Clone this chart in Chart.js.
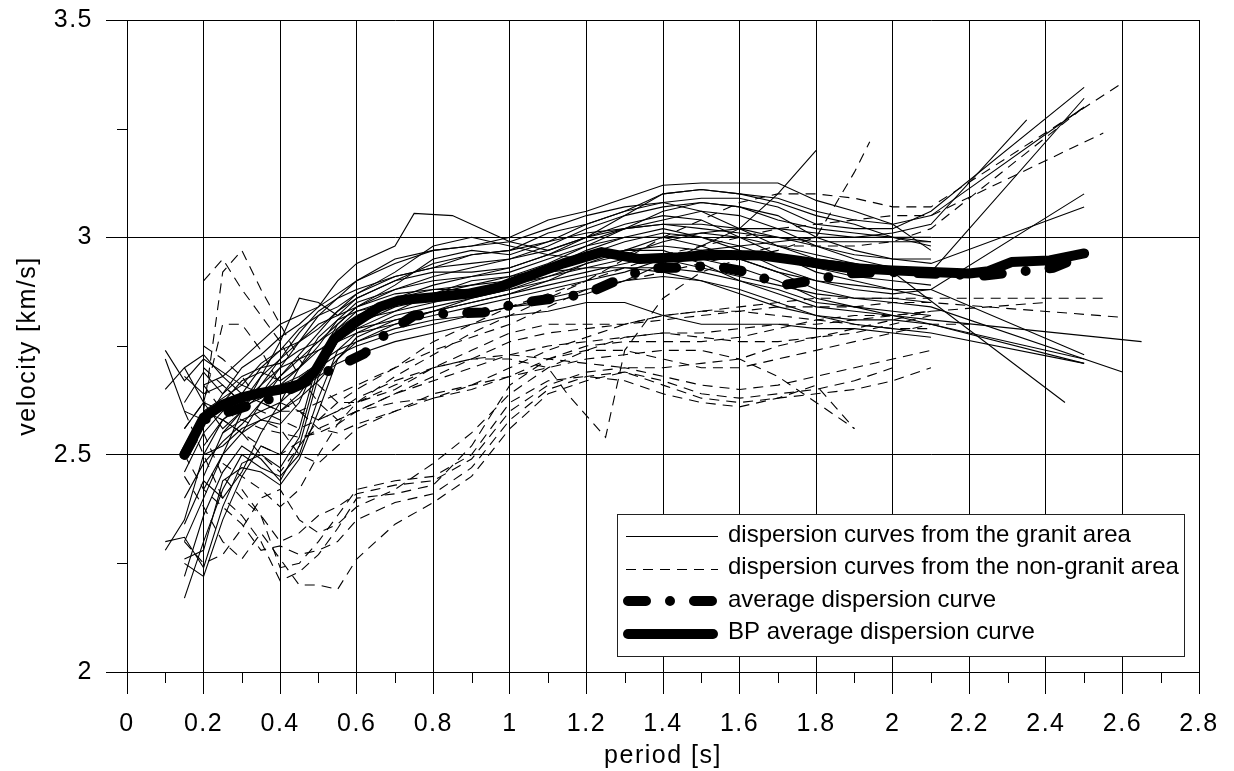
<!DOCTYPE html>
<html>
<head>
<meta charset="utf-8">
<title>Dispersion curves</title>
<script src="https://cdn.jsdelivr.net/npm/chart.js@4.4.1/dist/chart.umd.min.js"></script>
<style>
  html, body { margin: 0; padding: 0; background: #fff; }
  canvas { display: block; }
</style>
</head>
<body>
<canvas id="canvas" width="1234" height="771"></canvas>
<script>
const xTicks = [0, 0.2, 0.4, 0.6, 0.8, 1, 1.2, 1.4, 1.6, 1.8, 2, 2.2, 2.4, 2.6, 2.8];
const xMinorTicks = [0.1, 0.3, 0.5, 0.7, 0.9, 1.1, 1.3, 1.5, 1.7, 1.9, 2.1, 2.3, 2.5, 2.7];
const yTicks = [2, 2.5, 3, 3.5];
const yMinorTicks = [2.25, 2.75, 3.25];

const legendLabels = [
  'dispersion curves from the granit area',
  'dispersion curves from the non-granit area',
  'average dispersion curve',
  'BP average dispersion curve'
];

// [period s, velocity km/s]
const graniteCurves = [
  [[0.1,2.74],[0.15,2.67],[0.2,2.72],[0.25,2.69],[0.3,2.66],[0.35,2.71],[0.4,2.74],[0.45,2.79],[0.5,2.82],[0.55,2.84],[0.6,2.87],[0.7,2.91],[0.8,2.93],[0.9,2.96],[1.0,2.97],[1.1,3.01],[1.2,3.03],[1.3,3.06],[1.4,3.08],[1.5,3.09],[1.6,3.09],[1.7,3.07],[1.8,3.03],[1.9,3.02],[2.0,3.02],[2.1,3.06],[2.5,3.345]],
  [[0.15,2.62],[0.2,2.69],[0.25,2.64],[0.3,2.7],[0.35,2.73],[0.4,2.77],[0.45,2.8],[0.5,2.84],[0.55,2.9],[0.6,2.94],[0.7,2.98],[0.75,3.055],[0.85,3.05],[0.95,3.01],[1.0,2.99],[1.1,2.97],[1.2,3.0],[1.3,3.05],[1.4,3.1],[1.5,3.11],[1.6,3.1],[1.7,3.08],[1.8,3.05],[1.9,3.03],[2.0,3.0],[2.1,2.98]],
  [[0.2,2.6],[0.25,2.63],[0.3,2.66],[0.35,2.64],[0.4,2.7],[0.45,2.76],[0.5,2.82],[0.55,2.86],[0.6,2.9],[0.7,2.95],[0.8,2.97],[0.9,2.98],[1.0,3.0],[1.1,3.04],[1.2,3.06],[1.3,3.09],[1.4,3.12],[1.5,3.125],[1.6,3.125],[1.7,3.125],[1.8,3.085],[1.9,3.06],[2.0,3.03],[2.1,2.97]],
  [[0.2,2.52],[0.25,2.58],[0.3,2.61],[0.35,2.63],[0.4,2.66],[0.45,2.68],[0.5,2.71],[0.55,2.74],[0.6,2.76],[0.7,2.79],[0.8,2.81],[0.9,2.82],[1.0,2.84],[1.1,2.85],[1.2,2.87],[1.3,2.9],[1.4,2.94],[1.5,2.98],[1.6,3.02],[1.7,3.1],[1.8,3.2]],
  [[0.15,2.22],[0.2,2.36],[0.25,2.46],[0.3,2.52],[0.35,2.49],[0.4,2.44],[0.45,2.52],[0.5,2.68],[0.55,2.76],[0.6,2.8],[0.7,2.84],[0.8,2.86],[0.9,2.88],[1.0,2.9],[1.1,2.93],[1.2,2.97],[1.3,3.0],[1.4,3.02],[1.5,3.0],[1.6,2.97],[1.7,2.93],[1.8,2.9],[1.9,2.88],[2.0,2.87],[2.1,2.88],[2.5,3.1]],
  [[0.15,2.17],[0.2,2.3],[0.25,2.42],[0.3,2.5],[0.35,2.47],[0.4,2.45],[0.45,2.5],[0.5,2.63],[0.55,2.74],[0.6,2.78],[0.7,2.82],[0.8,2.84],[0.9,2.86],[1.0,2.88],[1.1,2.9],[1.2,2.92],[1.3,2.94],[1.4,2.96],[1.5,2.95],[1.6,2.93],[1.7,2.9],[1.8,2.86],[1.9,2.84],[2.0,2.82],[2.1,2.8],[2.5,2.72]],
  [[0.1,2.3],[0.15,2.31],[0.2,2.24],[0.25,2.38],[0.3,2.48],[0.35,2.5],[0.4,2.47],[0.45,2.54],[0.5,2.7],[0.55,2.78],[0.6,2.81],[0.7,2.83],[0.8,2.85],[0.9,2.87],[1.0,2.89],[1.1,2.92],[1.2,2.95],[1.3,2.97],[1.4,2.98],[1.5,2.97],[1.6,2.95],[1.7,2.92],[1.8,2.88],[1.9,2.86],[2.0,2.85],[2.1,2.84],[2.6,2.69]],
  [[0.15,2.25],[0.2,2.22],[0.25,2.35],[0.3,2.45],[0.35,2.52],[0.4,2.5],[0.45,2.56],[0.5,2.72],[0.55,2.79],[0.6,2.83],[0.7,2.86],[0.8,2.89],[0.9,2.91],[1.0,2.93],[1.1,2.96],[1.2,2.99],[1.3,3.02],[1.4,3.04],[1.5,3.06],[1.6,3.05],[1.7,3.02],[1.8,2.98],[1.9,2.95],[2.0,2.93],[2.1,2.92],[2.5,3.32]],
  [[0.15,2.56],[0.2,2.62],[0.25,2.6],[0.3,2.64],[0.35,2.62],[0.4,2.66],[0.45,2.7],[0.5,2.74],[0.55,2.76],[0.6,2.78],[0.7,2.8],[0.8,2.82],[0.9,2.84],[1.0,2.86],[1.1,2.88],[1.2,2.9],[1.3,2.92],[1.4,2.95],[1.5,2.97],[1.6,2.98],[1.7,2.99],[1.8,3.0],[1.9,3.0],[2.0,3.01],[2.1,3.03],[2.35,3.27]],
  [[0.15,2.46],[0.2,2.55],[0.25,2.6],[0.3,2.62],[0.35,2.66],[0.4,2.7],[0.45,2.72],[0.5,2.74],[0.55,2.77],[0.6,2.79],[0.7,2.81],[0.8,2.83],[0.9,2.85],[1.0,2.87],[1.1,2.9],[1.2,2.94],[1.3,2.97],[1.4,2.97],[1.5,2.94],[1.6,2.9],[1.7,2.87],[1.8,2.84],[1.9,2.83],[2.0,2.82],[2.1,2.81],[2.65,2.76]],
  [[0.15,2.68],[0.2,2.64],[0.25,2.66],[0.3,2.62],[0.35,2.68],[0.4,2.72],[0.45,2.76],[0.5,2.8],[0.55,2.82],[0.6,2.84],[0.7,2.88],[0.8,2.91],[0.9,2.93],[1.0,2.95],[1.1,2.98],[1.2,3.02],[1.3,3.05],[1.4,3.07],[1.5,3.08],[1.6,3.07],[1.7,3.05],[1.8,3.0],[1.9,2.97],[2.0,2.95],[2.1,2.94],[2.5,3.07]],
  [[0.2,2.45],[0.25,2.55],[0.3,2.58],[0.35,2.6],[0.4,2.62],[0.45,2.66],[0.5,2.7],[0.55,2.73],[0.6,2.75],[0.7,2.78],[0.8,2.8],[0.9,2.82],[1.0,2.84],[1.1,2.86],[1.2,2.88],[1.3,2.9],[1.4,2.91],[1.5,2.9],[1.6,2.88],[1.7,2.85],[1.8,2.82],[1.9,2.8],[2.0,2.79],[2.1,2.78],[2.5,2.71]],
  [[0.15,2.7],[0.2,2.73],[0.25,2.68],[0.3,2.72],[0.35,2.76],[0.4,2.8],[0.45,2.82],[0.5,2.84],[0.55,2.87],[0.6,2.9],[0.7,2.94],[0.8,2.97],[0.9,2.98],[1.0,2.99],[1.1,3.02],[1.2,3.05],[1.3,3.07],[1.4,3.08],[1.5,3.06],[1.6,3.02],[1.7,2.98],[1.8,2.95],[1.9,2.94],[2.0,2.92],[2.45,2.62]],
  [[0.2,2.5],[0.25,2.52],[0.3,2.56],[0.35,2.58],[0.4,2.6],[0.45,2.63],[0.5,2.67],[0.55,2.72],[0.6,2.76],[0.7,2.8],[0.8,2.83],[0.9,2.86],[1.0,2.88],[1.1,2.91],[1.2,2.94],[1.3,2.96],[1.4,2.99],[1.5,3.01],[1.6,3.02],[1.7,3.02],[1.8,3.01],[1.9,3.0],[2.0,3.0],[2.1,3.0]],
  [[0.15,2.3],[0.2,2.4],[0.25,2.5],[0.3,2.6],[0.35,2.64],[0.4,2.68],[0.45,2.73],[0.5,2.78],[0.55,2.83],[0.6,2.86],[0.7,2.9],[0.8,2.92],[0.9,2.92],[1.0,2.93],[1.1,2.96],[1.2,3.0],[1.3,3.03],[1.4,3.05],[1.5,3.04],[1.6,3.0],[1.7,2.96],[1.8,2.92],[1.9,2.9],[2.0,2.88],[2.1,2.86]],
  [[0.1,2.28],[0.15,2.35],[0.2,2.5],[0.25,2.58],[0.3,2.55],[0.35,2.62],[0.4,2.68],[0.45,2.72],[0.5,2.76],[0.55,2.79],[0.6,2.82],[0.7,2.86],[0.8,2.88],[0.9,2.89],[1.0,2.9],[1.1,2.92],[1.2,2.93],[1.3,2.93],[1.4,2.92],[1.5,2.9],[1.6,2.87],[1.7,2.84],[1.8,2.82],[1.9,2.81],[2.0,2.81],[2.1,2.8],[2.5,2.71]],
  [[0.2,2.6],[0.25,2.58],[0.3,2.62],[0.35,2.64],[0.4,2.64],[0.45,2.65],[0.5,2.68],[0.55,2.71],[0.6,2.73],[0.7,2.76],[0.8,2.78],[0.9,2.8],[1.0,2.82],[1.1,2.83],[1.2,2.85],[1.3,2.85],[1.4,2.82],[1.5,2.8],[1.6,2.8],[1.7,2.8],[1.8,2.79],[1.9,2.79],[2.0,2.78],[2.1,2.77]],
  [[0.15,2.52],[0.2,2.57],[0.25,2.64],[0.3,2.68],[0.35,2.7],[0.4,2.71],[0.45,2.74],[0.5,2.76],[0.55,2.8],[0.6,2.84],[0.7,2.89],[0.8,2.95],[0.9,2.97],[1.0,2.96],[1.1,2.99],[1.2,3.03],[1.3,3.06],[1.4,3.1],[1.5,3.11],[1.6,3.1],[1.7,3.09],[1.8,3.06],[1.9,3.04],[2.0,3.03],[2.1,3.05],[2.5,3.3]],
  [[0.25,2.55],[0.3,2.6],[0.35,2.68],[0.4,2.76],[0.45,2.86],[0.5,2.85],[0.55,2.82],[0.6,2.86],[0.7,2.9],[0.8,2.94],[0.9,2.96],[1.0,2.97],[1.1,2.99],[1.2,3.01],[1.3,3.02],[1.4,3.03],[1.5,3.03],[1.6,3.02],[1.7,3.0],[1.8,2.98],[1.9,2.96],[2.0,2.95],[2.1,2.95]],
  [[0.1,2.72],[0.15,2.6],[0.2,2.58],[0.25,2.62],[0.3,2.67],[0.35,2.69],[0.4,2.67],[0.45,2.7],[0.5,2.75],[0.55,2.81],[0.6,2.85],[0.7,2.88],[0.8,2.9],[0.9,2.91],[1.0,2.92],[1.1,2.95],[1.2,2.98],[1.3,3.0],[1.4,3.0],[1.5,2.98],[1.6,2.95],[1.7,2.92],[1.8,2.9],[1.9,2.89],[2.0,2.88],[2.1,2.88],[2.5,2.73]],
  [[0.15,2.4],[0.2,2.48],[0.25,2.53],[0.3,2.57],[0.35,2.62],[0.4,2.6],[0.45,2.64],[0.5,2.7],[0.55,2.76],[0.6,2.79],[0.7,2.83],[0.8,2.87],[0.9,2.9],[1.0,2.91],[1.1,2.94],[1.2,2.98],[1.3,3.02],[1.4,3.06],[1.5,3.08],[1.6,3.07],[1.7,3.04],[1.8,3.02],[1.9,3.01],[2.0,3.0],[2.1,2.99]],
  [[0.2,2.66],[0.25,2.68],[0.3,2.64],[0.35,2.7],[0.4,2.74],[0.45,2.76],[0.5,2.79],[0.55,2.83],[0.6,2.87],[0.7,2.92],[0.8,2.98],[0.9,3.0],[1.0,2.98],[1.1,2.96],[1.2,2.95],[1.3,2.97],[1.4,3.0],[1.5,3.01],[1.6,3.0],[1.7,2.98],[1.8,2.96],[1.9,2.94],[2.0,2.92],[2.1,2.91]],
  [[0.15,2.26],[0.2,2.28],[0.25,2.44],[0.3,2.47],[0.35,2.46],[0.4,2.43],[0.45,2.49],[0.5,2.6],[0.55,2.72],[0.6,2.77],[0.7,2.81],[0.8,2.83],[0.9,2.85],[1.0,2.87],[1.1,2.89],[1.2,2.91],[1.3,2.93],[1.4,2.93],[1.5,2.92],[1.6,2.9],[1.7,2.88],[1.8,2.85],[1.9,2.84],[2.0,2.83],[2.1,2.82]],
  [[0.1,2.65],[0.15,2.7],[0.2,2.62],[0.25,2.56],[0.3,2.6],[0.35,2.66],[0.4,2.72],[0.45,2.78],[0.5,2.83],[0.55,2.86],[0.6,2.88],[0.7,2.91],[0.8,2.93],[0.9,2.94],[1.0,2.95],[1.1,2.97],[1.2,3.0],[1.3,3.02],[1.4,3.03],[1.5,3.02],[1.6,3.01],[1.7,3.0],[1.8,2.99],[1.9,2.99],[2.0,2.99],[2.1,2.99]],
  [[0.2,2.42],[0.25,2.5],[0.3,2.55],[0.35,2.58],[0.4,2.57],[0.45,2.62],[0.5,2.72],[0.55,2.8],[0.6,2.84],[0.7,2.87],[0.8,2.88],[0.9,2.88],[1.0,2.89],[1.1,2.91],[1.2,2.93],[1.3,2.95],[1.4,2.95],[1.5,2.93],[1.6,2.91],[1.7,2.89],[1.8,2.87],[1.9,2.86],[2.0,2.86],[2.1,2.85]],
  [[0.15,2.34],[0.2,2.44],[0.25,2.4],[0.3,2.46],[0.35,2.55],[0.4,2.62],[0.45,2.7],[0.5,2.77],[0.55,2.81],[0.6,2.83],[0.7,2.85],[0.8,2.87],[0.9,2.89],[1.0,2.91],[1.1,2.93],[1.2,2.96],[1.3,2.99],[1.4,3.01],[1.5,3.0],[1.6,2.98],[1.7,2.95],[1.8,2.93],[1.9,2.91],[2.0,2.9],[2.1,2.89]]
];

const nonGraniteCurves = [
  [[0.2,2.6],[0.25,2.92],[0.3,2.97],[0.35,2.88],[0.4,2.8],[0.45,2.72],[0.5,2.66],[0.55,2.62],[0.6,2.62],[0.7,2.65],[0.8,2.7],[0.9,2.74],[1.0,2.78],[1.1,2.8],[1.2,2.8],[1.3,2.8],[1.4,2.81],[1.5,2.82],[1.6,2.83],[1.7,2.84],[1.8,2.84],[1.9,2.84],[2.0,2.85],[2.1,2.85],[2.6,2.816]],
  [[0.2,2.9],[0.25,2.95],[0.3,2.88],[0.35,2.82],[0.4,2.76],[0.45,2.68],[0.5,2.62],[0.55,2.58],[0.6,2.6],[0.7,2.64],[0.8,2.68],[0.9,2.72],[1.0,2.76],[1.1,2.78],[1.2,2.79],[1.3,2.8],[1.4,2.82],[1.5,2.83],[1.6,2.84],[1.7,2.85],[1.8,2.86],[1.9,2.86],[2.0,2.86],[2.1,2.86],[2.55,2.86]],
  [[0.15,2.56],[0.2,2.62],[0.25,2.8],[0.3,2.8],[0.35,2.74],[0.4,2.66],[0.45,2.6],[0.5,2.56],[0.55,2.55],[0.6,2.57],[0.7,2.6],[0.8,2.63],[0.9,2.66],[1.0,2.7],[1.1,2.74],[1.2,2.77],[1.3,2.8],[1.4,2.82],[1.5,2.83],[1.6,2.83],[1.7,2.82],[1.8,2.81],[1.9,2.8],[2.0,2.79],[2.1,2.79]],
  [[0.15,2.45],[0.2,2.38],[0.25,2.3],[0.3,2.26],[0.35,2.32],[0.4,2.26],[0.45,2.2],[0.5,2.2],[0.55,2.19],[0.6,2.26],[0.7,2.34],[0.8,2.39],[0.9,2.45],[1.0,2.56],[1.1,2.64],[1.2,2.67],[1.3,2.69],[1.4,2.66],[1.5,2.63],[1.6,2.62],[1.7,2.63],[1.8,2.64],[1.9,2.65],[2.0,2.67],[2.1,2.7]],
  [[0.15,2.5],[0.2,2.42],[0.25,2.38],[0.3,2.34],[0.35,2.28],[0.4,2.29],[0.45,2.27],[0.5,2.28],[0.55,2.3],[0.6,2.35],[0.7,2.39],[0.8,2.41],[0.9,2.47],[1.0,2.58],[1.1,2.65],[1.2,2.68],[1.3,2.69],[1.4,2.67],[1.5,2.64],[1.6,2.63],[1.7,2.64],[1.8,2.65],[1.9,2.67],[2.0,2.7]],
  [[0.2,2.55],[0.25,2.45],[0.3,2.4],[0.35,2.36],[0.4,2.24],[0.45,2.25],[0.5,2.3],[0.55,2.36],[0.6,2.42],[0.7,2.44],[0.8,2.45],[0.9,2.5],[1.0,2.62],[1.1,2.67],[1.2,2.68],[1.3,2.67],[1.4,2.64],[1.5,2.62],[1.6,2.61],[1.7,2.63],[1.8,2.66],[1.9,2.56]],
  [[0.2,2.6],[0.25,2.58],[0.3,2.55],[0.35,2.52],[0.4,2.5],[0.45,2.53],[0.5,2.56],[0.55,2.58],[0.6,2.6],[0.7,2.62],[0.8,2.63],[0.9,2.65],[1.0,2.68],[1.1,2.72],[1.2,2.74],[1.3,2.74],[1.4,2.72],[1.5,2.7],[1.6,2.7],[1.7,2.72],[1.8,2.74],[1.9,2.76],[2.0,2.78],[2.1,2.8],[2.2,2.8]],
  [[0.2,2.7],[0.25,2.66],[0.3,2.62],[0.35,2.6],[0.4,2.58],[0.45,2.56],[0.5,2.58],[0.55,2.6],[0.6,2.63],[0.7,2.67],[0.8,2.7],[0.9,2.72],[1.0,2.73],[1.1,2.72],[1.2,2.71],[1.3,2.7],[1.4,2.7],[1.5,2.71],[1.6,2.72],[1.7,2.75],[1.8,2.77],[1.9,2.79],[2.0,2.81],[2.1,2.83]],
  [[0.3,2.55],[0.35,2.5],[0.4,2.46],[0.45,2.52],[0.5,2.58],[0.55,2.62],[0.6,2.65],[0.7,2.7],[0.8,2.76],[0.9,2.8],[1.0,2.84],[1.1,2.87],[1.2,2.9],[1.3,2.95],[1.4,3.0],[1.5,3.04],[1.6,3.08],[1.7,3.1],[1.8,3.1],[1.9,3.09],[2.0,3.07],[2.1,3.07],[2.6,3.355]],
  [[0.25,2.48],[0.3,2.45],[0.35,2.42],[0.4,2.38],[0.45,2.42],[0.5,2.5],[0.55,2.57],[0.6,2.62],[0.7,2.68],[0.8,2.73],[0.9,2.78],[1.0,2.82],[1.1,2.86],[1.2,2.9],[1.3,2.93],[1.4,2.96],[1.5,2.98],[1.6,3.0],[1.7,3.02],[1.8,3.03],[1.9,3.04],[2.0,3.05],[2.1,3.05],[2.55,3.24]],
  [[0.4,2.62],[0.45,2.6],[0.5,2.58],[0.55,2.6],[0.6,2.62],[0.7,2.66],[0.8,2.7],[0.9,2.72],[1.0,2.72],[1.1,2.7],[1.15,2.64],[1.25,2.54],[1.3,2.74],[1.4,2.86],[1.5,2.92],[1.6,2.95],[1.7,2.97],[1.8,3.0],[1.9,3.15],[1.94,3.22]],
  [[0.3,2.42],[0.35,2.36],[0.4,2.3],[0.45,2.32],[0.5,2.36],[0.55,2.38],[0.6,2.41],[0.7,2.43],[0.8,2.44],[0.9,2.49],[1.0,2.6],[1.1,2.66],[1.2,2.69],[1.3,2.7],[1.4,2.68],[1.5,2.66],[1.6,2.65],[1.7,2.66],[1.8,2.68],[1.9,2.7],[2.0,2.72],[2.1,2.74]],
  [[0.15,2.3],[0.2,2.25],[0.25,2.27],[0.3,2.33],[0.35,2.4],[0.4,2.42],[0.45,2.35],[0.5,2.32],[0.55,2.34],[0.6,2.38],[0.7,2.42],[0.8,2.48],[0.9,2.55],[1.0,2.64],[1.1,2.7],[1.2,2.74],[1.3,2.77],[1.4,2.78],[1.5,2.77],[1.6,2.76],[1.7,2.76],[1.8,2.77],[1.9,2.78],[2.0,2.8],[2.1,2.82]],
  [[0.2,2.75],[0.25,2.72],[0.3,2.68],[0.35,2.62],[0.4,2.6],[0.45,2.6],[0.5,2.62],[0.55,2.64],[0.6,2.66],[0.7,2.7],[0.8,2.74],[0.9,2.77],[1.0,2.8],[1.1,2.84],[1.2,2.88],[1.3,2.9],[1.4,2.92],[1.5,2.94],[1.6,2.96],[1.7,2.98],[1.8,2.98],[1.9,2.98],[2.0,2.99],[2.1,3.02],[2.5,3.3]],
  [[0.2,2.66],[0.25,2.6],[0.3,2.58],[0.35,2.56],[0.4,2.55],[0.45,2.54],[0.5,2.55],[0.55,2.57],[0.6,2.6],[0.7,2.64],[0.8,2.67],[0.9,2.7],[1.0,2.73],[1.1,2.75],[1.2,2.76],[1.3,2.77],[1.4,2.78],[1.5,2.78],[1.6,2.79],[1.7,2.8],[1.8,2.8],[1.9,2.81],[2.0,2.82],[2.1,2.83],[2.4,2.85]],
  [[0.3,2.62],[0.35,2.58],[0.4,2.56],[0.45,2.5],[0.5,2.48],[0.55,2.52],[0.6,2.56],[0.7,2.6],[0.8,2.64],[0.9,2.66],[1.0,2.68],[1.1,2.7],[1.2,2.72],[1.3,2.73],[1.4,2.74],[1.5,2.74],[1.6,2.72],[1.7,2.68],[1.8,2.62],[1.9,2.56]],
  [[0.15,2.6],[0.2,2.5],[0.25,2.4],[0.3,2.36],[0.35,2.3],[0.4,2.21],[0.45,2.23],[0.5,2.27],[0.55,2.33],[0.6,2.4],[0.7,2.41],[0.8,2.43],[0.9,2.52],[1.0,2.66],[1.1,2.72],[1.2,2.75],[1.3,2.76],[1.4,2.76],[1.5,2.76],[1.6,2.77],[1.7,2.79],[1.8,2.81],[1.9,2.82],[2.0,2.82],[2.1,2.83]]
];

const averageCurve = [[0.15,2.5],[0.2,2.58],[0.27,2.6],[0.37,2.627],[0.45,2.66],[0.53,2.694],[0.62,2.733],[0.68,2.781],[0.75,2.82],[0.84,2.825],[0.93,2.827],[1.02,2.848],[1.11,2.859],[1.2,2.87],[1.29,2.905],[1.36,2.929],[1.44,2.93],[1.53,2.935],[1.62,2.92],[1.71,2.89],[1.79,2.9],[1.88,2.917],[2.0,2.92],[2.24,2.912],[2.32,2.92],[2.42,2.93],[2.5,2.96]];

const bpAverageCurve = [[0.15,2.5],[0.2,2.585],[0.25,2.615],[0.3,2.632],[0.35,2.642],[0.4,2.65],[0.45,2.662],[0.49,2.69],[0.54,2.765],[0.59,2.8],[0.66,2.84],[0.71,2.855],[0.8,2.862],[0.89,2.87],[0.97,2.885],[1.0,2.895],[1.14,2.94],[1.24,2.966],[1.34,2.95],[1.44,2.954],[1.53,2.96],[1.66,2.958],[1.75,2.947],[1.88,2.93],[2.0,2.924],[2.1,2.92],[2.2,2.917],[2.25,2.922],[2.31,2.943],[2.41,2.947],[2.5,2.963]];

const thinSolid = { borderColor: '#000', borderWidth: 1.1 };
const thinDashed = { borderColor: '#000', borderWidth: 1.1, borderDash: [10, 7] };
const avgStyle = { borderColor: '#000', borderWidth: 10, borderDash: [18, 24, 0, 24], borderCapStyle: 'round', borderJoinStyle: 'round' };
const bpStyle = { borderColor: '#000', borderWidth: 10, borderCapStyle: 'round', borderJoinStyle: 'round' };

const datasets = [
  Object.assign({ data: bpAverageCurve, order: 0 }, bpStyle),
  Object.assign({ data: averageCurve, order: 1 }, avgStyle)
];
nonGraniteCurves.forEach(c => datasets.push(Object.assign({ data: c, order: 2 }, thinDashed)));
graniteCurves.forEach(c => datasets.push(Object.assign({ data: c, order: 3 }, thinSolid)));

const FONT = "'Liberation Sans', Arial, Helvetica, sans-serif";
Chart.defaults.font.family = FONT;
Chart.defaults.color = '#000';

// short ticks between the labelled ones
const minorTicks = {
  id: 'minorTicks',
  afterDraw(chart) {
    const { ctx, chartArea: a, scales: { x, y } } = chart;
    ctx.save();
    ctx.strokeStyle = '#000';
    ctx.lineWidth = 1;
    ctx.beginPath();
    xMinorTicks.forEach(v => {
      const px = Math.round(x.getPixelForValue(v)) + 0.5;
      ctx.moveTo(px, a.bottom);
      ctx.lineTo(px, a.bottom + 11);
    });
    yMinorTicks.forEach(v => {
      const py = Math.round(y.getPixelForValue(v)) + 0.5;
      ctx.moveTo(a.left - 10, py);
      ctx.lineTo(a.left, py);
    });
    ctx.stroke();
    ctx.restore();
  }
};

const boxLegend = {
  id: 'boxLegend',
  afterDraw(chart) {
    const { ctx, chartArea: a } = chart;
    const left = a.left + 490, top = a.top + 494, w = 567, h = 142;
    const styles = [thinSolid, thinDashed, avgStyle, bpStyle];
    ctx.save();
    ctx.letterSpacing = '0px';
    ctx.fillStyle = '#fff';
    ctx.fillRect(left + 0.5, top + 0.5, w, h);
    ctx.strokeStyle = '#222';
    ctx.lineWidth = 1;
    ctx.strokeRect(left + 0.5, top + 0.5, w, h);
    styles.forEach((s, i) => {
      const cy = top + 22 + i * 32.5;
      const thick = s.borderWidth > 2;
      ctx.save();
      ctx.strokeStyle = s.borderColor;
      ctx.lineWidth = s.borderWidth;
      ctx.lineCap = s.borderCapStyle || 'butt';
      ctx.setLineDash(s.borderDash || []);
      ctx.beginPath();
      const x0 = thick ? left + 11 : left + 9;
      const x1 = thick ? left + 96 : left + 101;
      ctx.moveTo(x0, Math.round(cy) + (thick ? 0 : 0.5));
      ctx.lineTo(x1, Math.round(cy) + (thick ? 0 : 0.5));
      ctx.stroke();
      ctx.restore();
      ctx.fillStyle = '#000';
      ctx.font = '24px ' + FONT;
      ctx.textBaseline = 'middle';
      ctx.textAlign = 'left';
      ctx.fillText(legendLabels[i], left + 111, cy - 1);
    });
    ctx.restore();
  }
};

const wideText = {
  id: 'wideText',
  beforeDraw(chart) { chart.ctx.letterSpacing = '1.5px'; }
};

new Chart(document.getElementById('canvas'), {
  type: 'line',
  data: { datasets },
  options: {
    responsive: false,
    animation: false,
    devicePixelRatio: 1,
    layout: { padding: { top: 20, right: 35, bottom: 0, left: 0 } },
    elements: { point: { radius: 0 }, line: { tension: 0 } },
    plugins: { legend: { display: false }, tooltip: { enabled: false } },
    scales: {
      x: {
        type: 'linear', min: 0, max: 2.8,
        afterBuildTicks: s => { s.ticks = xTicks.map(v => ({ value: v })); },
        afterFit: s => { s.height = 99; s.paddingLeft = 0; s.paddingRight = 0; },
        grid: { color: '#000', lineWidth: 1, tickLength: 22, tickColor: '#000' },
        border: { color: '#000', width: 1 },
        ticks: { padding: 15, maxRotation: 0, autoSkip: false, font: { size: 25 }, color: '#000', callback: v => String(v) },
        title: { display: true, text: 'period [s]', font: { size: 25 }, color: '#000', padding: { top: 0, bottom: 0 } }
      },
      y: {
        type: 'linear', min: 2, max: 3.5,
        afterBuildTicks: s => { s.ticks = yTicks.map(v => ({ value: v })); },
        afterFit: s => { s.width = 127; s.paddingTop = 0; s.paddingBottom = 0; },
        grid: { color: '#000', lineWidth: 1, tickLength: 21, tickColor: '#000' },
        border: { color: '#000', width: 1 },
        ticks: { padding: 13, font: { size: 25 }, color: '#000', callback: v => String(v) },
        title: { display: true, text: 'velocity [km/s]', font: { size: 25 }, color: '#000', padding: { top: 13, bottom: 0 } }
      }
    }
  },
  plugins: [wideText, minorTicks, boxLegend]
});
</script>
</body>
</html>
